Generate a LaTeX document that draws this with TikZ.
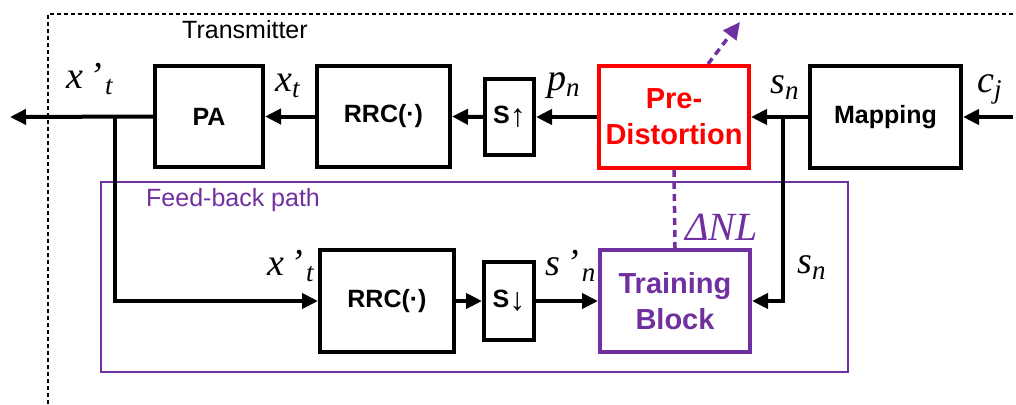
\documentclass[tikz,border=0pt]{standalone}
\usepackage{fontspec}
\setmainfont{Liberation Serif}
\newfontfamily\blockfont{Liberation Sans}
\usetikzlibrary{arrows.meta}
\definecolor{fbpurple}{HTML}{7030A0}
\definecolor{pdred}{HTML}{FF0000}
% signal label: italic symbol, optional prime, lowered subscript
\newcommand\siglab[3]{{\fontsize{38}{40}\selectfont\itshape #1#2\raisebox{-6pt}{\fontsize{27}{27}\selectfont #3}}}
\newcommand\primemark{\,’\kern3pt}
% thin rate-change arrow inside the sampler blocks
\newcommand\ratearrow[1]{\raisebox{-3pt}{\mdseries\fontsize{32}{32}\selectfont #1}}
\begin{document}
\begin{tikzpicture}[x=1pt,y=-1pt,
  blk/.style={draw, line width=4pt, rectangle, inner sep=0pt, align=center,
    font={\blockfont\bfseries\fontsize{25}{30}\selectfont}},
  bigblk/.style={blk, font={\blockfont\bfseries\fontsize{29}{36}\selectfont}},
  sig/.style={anchor=base west, inner sep=0pt},
  arr/.style={line width=4pt, -{Triangle[length=16pt,width=15pt]}},
  ctrl/.style={line width=3.5pt, fbpurple, dash pattern=on 7pt off 5pt},
  plain/.style={anchor=base west, inner sep=0pt,
    font={\blockfont\fontsize{25}{30}\selectfont}}]
\useasboundingbox (0,0) rectangle (1016,404);

% transmitter boundary
\draw[line width=2pt, dash pattern=on 4pt off 3pt] (48,404) |- (1016,14);
\node[plain] (txlabel) at (182,39) {Transmitter};

% feed-back path frame
\draw[fbpurple, line width=1.3pt] (101,182) rectangle (848,372);
\node[plain, text=fbpurple] (fblabel) at (146,206) {Feed-back path};

% forward chain
\node[blk, minimum width=108, minimum height=101] (pa) at (209,116.5) {PA};
\node[blk, minimum width=133, minimum height=101] (rrcA) at (383.5,116.5) {RRC(·)};
\node[blk, minimum width=49, minimum height=76] (sup) at (509.5,117) {S\ratearrow{↑}};
\node[bigblk, draw=pdred, text=pdred, minimum width=150, minimum height=102] (pred) at (674,117) {Pre-\\Distortion};
\node[blk, minimum width=151, minimum height=102] (map) at (885.5,117) {Mapping};

% feedback chain
\node[blk, minimum width=134, minimum height=102] (rrcB) at (387,301) {RRC(·)};
\node[blk, minimum width=50, minimum height=78] (sdn) at (509,301) {S\ratearrow{↓}};
\node[bigblk, draw=fbpurple, text=fbpurple, minimum width=150, minimum height=102] (train) at (675,301) {Training\\Block};

% free ends and branch points
\coordinate (cin) at (1013,117);
\coordinate (xout) at (10,117);
\coordinate (tapx) at (115,117);
\coordinate (taps) at (783,117);
\coordinate (upd) at (740,22);

% forward connectors
\draw[arr] (cin) -- (map.east);
\draw[arr] (map.west) -- (pred.east);
\draw[arr] (pred.west) -- (sup.east);
\draw[arr] (sup.west) -- (rrcA.east);
\draw[arr] (rrcA.west) -- (pa.east);
\draw[arr] (pa.west) -- (xout);

% feedback connectors
\draw[arr] (tapx) |- (rrcB.west);
\draw[arr] (rrcB.east) -- (sdn.west);
\draw[arr] (sdn.east) -- (train.west);
\draw[arr] (taps) |- (train.east);

% coefficient update
\draw[ctrl] (pred.south) -- (train.north);
\draw[ctrl, -{Triangle[length=17pt,width=16pt]}] ([xshift=34pt]pred.north) -- (upd);

% signal labels
\node[sig] (lxo) at (66,88) {\siglab{x}{\primemark}{t}};
\node[sig] (lx) at (275,91) {\siglab{x}{}{t}};
\node[sig] (lp) at (547,90) {\siglab{p}{}{n}};
\node[sig] (ls) at (770,93) {\siglab{s}{}{n}};
\node[sig] (lc) at (977,92) {\siglab{c}{}{j}};
\node[sig] (lxf) at (267,275) {\siglab{x}{\primemark}{t}};
\node[sig] (lsf) at (545,275) {\siglab{s}{\primemark}{n}};
\node[sig] (lsb) at (797,273) {\siglab{s}{}{n}};
\node[sig, text=fbpurple] (ldnl) at (685,240) {{\fontsize{40}{42}\selectfont\itshape ΔNL}};
\end{tikzpicture}
\end{document}
